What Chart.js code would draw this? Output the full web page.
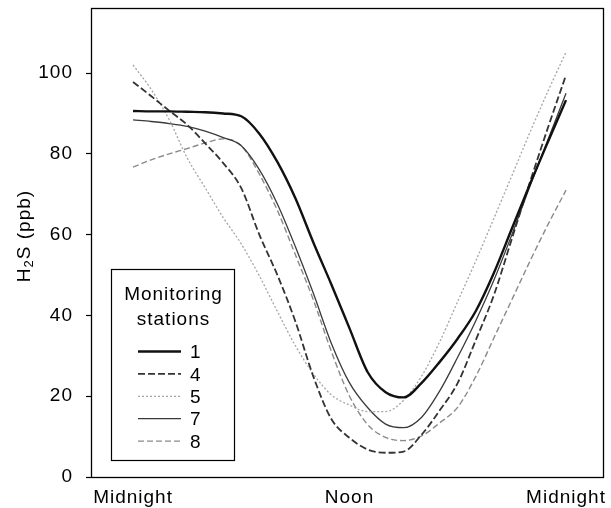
<!DOCTYPE html>
<html><head><meta charset="utf-8">
<style>html,body{margin:0;padding:0;background:#fff}#wrap{width:611px;height:508px}</style>
<script src="https://cdn.jsdelivr.net/npm/chart.js@4/dist/chart.umd.min.js"></script>
</head><body><div id="wrap"><canvas id="c" width="611" height="508"></canvas></div>
<script>
// ---- data ----
const hours = [0,1,2,3,4,5,6,7,8,9,10,11,12,13,14,15,16,17,18,19,20,21,22,23,24];
const station1 = [90.6,90.5,90.5,90.4,90.3,90.0,89.3,85.0,78.0,69.0,58.0,47.6,36.8,26.0,21.0,19.7,23.3,28.5,34.3,41.1,50.5,61.5,72.5,83.0,93.3];
const station4 = [97.8,94.3,90.7,87.2,82.6,77.7,71.5,60.0,50.0,38.5,24.8,14.3,9.7,6.8,6.0,6.3,10.5,16.5,23.3,33.9,45.0,59.0,73.0,86.5,99.5];
const station5 = [102.0,96.0,88.5,79.0,71.6,64.2,57.7,49.8,41.0,32.5,25.5,20.3,17.8,16.2,16.2,19.0,25.0,33.5,43.5,53.5,64.0,74.6,85.3,95.5,105.2];
const station7 = [88.4,88.0,87.5,86.8,85.6,84.0,82.0,76.1,67.6,57.0,45.4,33.0,23.3,17.2,13.1,12.2,14.8,21.3,29.7,38.7,48.7,60.0,72.0,83.5,95.0];
const station8 = [76.7,78.5,80.0,81.3,82.7,83.7,82.0,75.0,66.0,55.0,43.8,31.0,20.0,13.0,9.8,9.0,10.2,13.4,17.3,24.9,34.4,43.9,53.4,62.5,71.0];
const stationNames = ['1','4','5','7','8'];
const xTickValues = [0,12,24];
const xTickLabels = ['Midnight','Noon','Midnight'];
const yTickValues = [0,20,40,60,80,100];
const legendTitle = ['Monitoring','stations'];
const yTitleParts = ['H','2','S (ppb)'];

const FONT = "'Liberation Sans', Arial, Helvetica, sans-serif";
Chart.defaults.font.family = FONT;
Chart.defaults.font.size = 19;
Chart.defaults.color = '#000';

const seriesValues = [station1, station4, station5, station7, station8];
const styles = [
  {borderColor:'#111111', borderWidth:2.4, borderDash:[]},
  {borderColor:'#333333', borderWidth:1.8, borderDash:[7,3]},
  {borderColor:'#a5a5a5', borderWidth:1.3, borderDash:[2,2]},
  {borderColor:'#3a3a3a', borderWidth:1.3, borderDash:[]},
  {borderColor:'#8a8a8a', borderWidth:1.4, borderDash:[6,3]}
];
const datasets = seriesValues.map((vals,i)=>Object.assign({
  label: stationNames[i],
  data: hours.map((h,j)=>({x:h, y:vals[j]})),
  pointRadius:0, fill:false, cubicInterpolationMode:'monotone'
}, styles[i]));

const spacingPlugin = {
  id:'spacing',
  beforeDraw(chart){ chart.ctx.letterSpacing = '1px'; }
};

const framePlugin = {
  id:'frame',
  afterDatasetsDraw(chart){
    const {ctx, chartArea:a} = chart;
    ctx.save();
    ctx.strokeStyle = '#000'; ctx.lineWidth = 1.3; ctx.setLineDash([]);
    ctx.strokeRect(a.left+0.5, a.top+0.5, a.right-a.left, a.bottom-a.top);
    ctx.restore();
  }
};

const legendPlugin = {
  id:'boxLegend',
  afterDraw(chart){
    const ctx = chart.ctx;
    const bx=111, by=269, bw=123, bh=191;
    ctx.save();
    ctx.fillStyle='#fff'; ctx.fillRect(bx,by,bw,bh);
    ctx.strokeStyle='#000'; ctx.lineWidth=1.2; ctx.setLineDash([]);
    ctx.strokeRect(bx+0.5,by+0.5,bw,bh);
    ctx.fillStyle='#000'; ctx.font = '19px ' + FONT;
    ctx.textAlign='center'; ctx.textBaseline='middle';
    legendTitle.forEach((t,i)=>ctx.fillText(t, bx+bw/2+1, 295 + i*25));
    chart.data.datasets.forEach((ds,i)=>{
      const y = 351.5 + i*22.4;
      ctx.save();
      ctx.strokeStyle = ds.borderColor; ctx.lineWidth = ds.borderWidth;
      ctx.setLineDash(ds.borderDash||[]);
      ctx.beginPath(); ctx.moveTo(138,y); ctx.lineTo(181,y); ctx.stroke();
      ctx.restore();
      ctx.textAlign='left';
      ctx.fillText(ds.label, 190, y+1.5);
    });
    ctx.restore();
  }
};

const yTitlePlugin = {
  id:'yTitle',
  afterDraw(chart){
    const ctx = chart.ctx;
    ctx.save();
    ctx.translate(25, 236);
    ctx.rotate(-Math.PI/2);
    ctx.fillStyle='#000'; ctx.textBaseline='middle'; ctx.textAlign='left';
    const big = '19px ' + FONT, small = '13px ' + FONT;
    ctx.font = big; const w0 = ctx.measureText(yTitleParts[0]).width;
    ctx.font = small; const w1 = ctx.measureText(yTitleParts[1]).width;
    ctx.font = big; const w2 = ctx.measureText(yTitleParts[2]).width;
    let x = -(w0+w1+w2)/2;
    ctx.font = big; ctx.fillText(yTitleParts[0], x, 0); x += w0;
    ctx.font = small; ctx.fillText(yTitleParts[1], x, 4.5); x += w1;
    ctx.font = big; ctx.fillText(yTitleParts[2], x, 0);
    ctx.restore();
  }
};

new Chart(document.getElementById('c'), {
  type:'line',
  data:{datasets},
  plugins:[spacingPlugin, framePlugin, legendPlugin, yTitlePlugin],
  options:{
    responsive:false, animation:false, devicePixelRatio:1,
    layout:{padding:{left:0, top:8, right:8, bottom:0}},
    plugins:{legend:{display:false}, tooltip:{enabled:false}},
    scales:{
      x:{
        type:'linear', min:-2.33, max:26.05,
        afterBuildTicks(s){ s.ticks = xTickValues.map(v=>({value:v})); },
        afterFit(s){ s.height = 31; s.paddingLeft = 0; s.paddingRight = 0; },
        ticks:{autoSkip:false, maxRotation:0, padding:9, callback:(v,i)=>xTickLabels[i]},
        grid:{drawOnChartArea:false, drawTicks:false},
        border:{display:false}
      },
      y:{
        type:'linear', min:0, max:116.1,
        afterBuildTicks(s){ s.ticks = yTickValues.map(v=>({value:v})); },
        afterFit(s){ s.width = 91; s.paddingTop = 0; s.paddingBottom = 0; },
        ticks:{padding:13, callback:(v)=>String(v)},
        grid:{drawOnChartArea:false, drawTicks:true, tickLength:5, tickColor:'#000', tickWidth:1.2},
        border:{display:false}
      }
    }
  }
});
</script></body></html>
